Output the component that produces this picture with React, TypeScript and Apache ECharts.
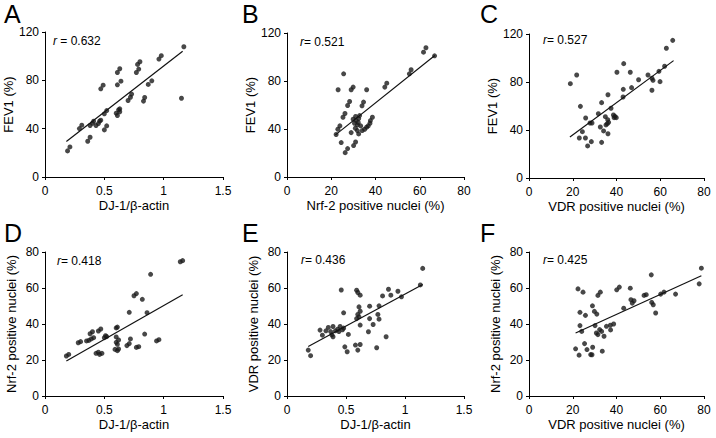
import React, { useEffect, useRef } from "react";
import * as echarts from "echarts";

// Panel A: DJ-1/β-actin vs FEV1 (%)
const dataA: number[][] = [
  [0.19, 21.6], [0.21, 24.9], [0.29, 40.1], [0.31, 42.9], [0.36, 29.6], [0.38, 32.9],
  [0.38, 42.6], [0.40, 44.5], [0.41, 46.2], [0.43, 42.6], [0.45, 44.2], [0.46, 46.2],
  [0.47, 47.0], [0.50, 39.0], [0.52, 42.3], [0.50, 52.3], [0.52, 55.0], [0.47, 73.0],
  [0.49, 76.0], [0.60, 52.8], [0.61, 50.9], [0.62, 55.6], [0.63, 54.0], [0.63, 56.4],
  [0.61, 86.5], [0.63, 89.6], [0.61, 76.3], [0.64, 79.3], [0.70, 63.3], [0.72, 66.0],
  [0.73, 68.6], [0.77, 86.5], [0.78, 93.2], [0.79, 89.3], [0.80, 95.4], [0.83, 62.8],
  [0.84, 65.8], [0.87, 76.6], [0.90, 79.6], [0.96, 97.6], [0.98, 100.4], [1.15, 65.2],
  [1.17, 107.8],
];
const lineA: number[][] = [[0.18, 29.3], [1.16, 104.0]];

// Panel B: Nrf-2 positive nuclei (%) vs FEV1 (%)
const dataB: number[][] = [
  [22.2, 35.4], [23.0, 39.8], [23.9, 42.6], [23.1, 72.7], [24.5, 28.7], [25.6, 86.0],
  [25.3, 49.8], [26.2, 52.9], [26.3, 20.3], [27.4, 23.7], [27.4, 59.6], [28.3, 62.9],
  [29.0, 72.7], [29.9, 74.9], [30.1, 26.2], [31.0, 29.2], [33.9, 59.3], [34.6, 62.4],
  [36.0, 72.7], [44.2, 74.9], [45.1, 78.2], [55.3, 86.0], [56.1, 89.4], [61.7, 104.0],
  [62.8, 107.7], [66.7, 101.0],
  [29.9, 48.2], [31.0, 50.4], [30.5, 44.8], [31.3, 47.0], [31.8, 43.4], [32.2, 45.4],
  [30.9, 40.6], [32.4, 48.7], [32.8, 51.2], [33.3, 42.6], [31.8, 38.7], [34.0, 38.7],
  [35.1, 39.8], [36.0, 41.5], [36.7, 42.6], [37.5, 44.8], [37.7, 47.0], [38.6, 49.8],
  [29.0, 37.0], [32.4, 35.9],
];
const lineB: number[][] = [[21.9, 35.1], [66.8, 101.3]];

// Panel C: VDR positive nuclei (%) vs FEV1 (%)
const dataC: number[][] = [
  [18.9, 78.6], [21.8, 85.8], [23.5, 59.7], [25.9, 50.0], [23.0, 33.3], [25.8, 33.3],
  [24.4, 38.6], [26.8, 26.7], [28.5, 30.3], [27.9, 45.8], [28.8, 45.8], [33.2, 62.8],
  [36.1, 69.4], [33.2, 29.7], [31.7, 53.6], [32.6, 42.5], [34.1, 39.2], [34.9, 51.1],
  [36.0, 48.6], [35.2, 44.2], [35.8, 45.3], [36.4, 46.4], [36.1, 36.9], [37.5, 58.1],
  [38.6, 52.5], [39.3, 51.4], [39.9, 50.3], [38.9, 50.3], [40.2, 88.1], [43.3, 95.3],
  [43.1, 73.9], [43.0, 67.5], [46.3, 88.1], [46.9, 75.3], [50.1, 81.9], [54.4, 85.8],
  [56.2, 83.1], [56.7, 81.4], [56.2, 73.1], [59.4, 88.9], [59.9, 80.3], [62.0, 93.1],
  [62.8, 108.1], [65.7, 114.7],
];
const lineC: number[][] = [[18.7, 34.2], [66.1, 97.8]];

// Panel D: DJ-1/β-actin vs Nrf-2 positive nuclei (%)
const dataD: number[][] = [
  [0.18, 22.2], [0.20, 23.1], [0.28, 29.6], [0.30, 30.2], [0.35, 30.6], [0.37, 30.9],
  [0.38, 34.6], [0.40, 35.7], [0.39, 31.7], [0.41, 32.4], [0.43, 23.7], [0.45, 24.3],
  [0.45, 36.1], [0.47, 37.2], [0.46, 23.1], [0.48, 23.7], [0.50, 32.4], [0.51, 33.5],
  [0.52, 33.0], [0.60, 37.8], [0.61, 38.3], [0.60, 32.8], [0.62, 31.1], [0.60, 29.8],
  [0.61, 28.7], [0.59, 25.9], [0.61, 25.2], [0.62, 26.1], [0.71, 46.5], [0.69, 28.0],
  [0.71, 29.1], [0.72, 31.7], [0.77, 27.0], [0.79, 27.4], [0.75, 55.7], [0.77, 56.9],
  [0.82, 53.7], [0.84, 34.4], [0.86, 46.3], [0.89, 67.6], [0.94, 30.6], [0.96, 31.3],
  [1.14, 74.6], [1.16, 75.2],
];
const lineD: number[][] = [[0.18, 19.4], [1.16, 56.3]];

// Panel E: DJ-1/β-actin vs VDR positive nuclei (%)
const dataE: number[][] = [
  [0.18, 25.5], [0.20, 22.4], [0.28, 36.6], [0.30, 33.8], [0.33, 36.2], [0.35, 38.1],
  [0.37, 35.8], [0.38, 34.0], [0.39, 38.6], [0.41, 36.2], [0.43, 37.1], [0.44, 35.8],
  [0.45, 38.6], [0.47, 36.8], [0.48, 37.7], [0.39, 32.9], [0.46, 58.9], [0.48, 46.2],
  [0.49, 27.3], [0.51, 24.6], [0.52, 34.2], [0.59, 58.8], [0.60, 57.5], [0.62, 56.0],
  [0.61, 49.5], [0.62, 47.1], [0.60, 45.3], [0.61, 44.0], [0.59, 43.0], [0.62, 39.4],
  [0.58, 28.3], [0.62, 28.6], [0.60, 25.5], [0.70, 49.9], [0.70, 43.0], [0.73, 39.7],
  [0.69, 35.7], [0.76, 26.8], [0.78, 50.1], [0.77, 45.3], [0.78, 42.7], [0.81, 55.6],
  [0.84, 32.9], [0.86, 59.3], [0.88, 56.0], [0.94, 58.2], [0.97, 55.1], [1.13, 61.7],
  [1.15, 70.9],
];
const lineE: number[][] = [[0.18, 27.5], [1.15, 61.9]];

// Panel F: VDR positive nuclei (%) vs Nrf-2 positive nuclei (%)
const dataF: number[][] = [
  [22.4, 59.5], [24.7, 57.7], [31.5, 55.9], [32.6, 57.7], [29.0, 50.1], [29.9, 47.0],
  [31.0, 45.5], [23.3, 46.5], [25.8, 44.8], [23.3, 39.1], [24.1, 35.9], [30.2, 39.1],
  [30.8, 35.0], [31.5, 34.1], [32.3, 36.9], [33.2, 35.9], [34.3, 33.2], [35.4, 38.7],
  [37.2, 39.3], [38.7, 40.0], [37.3, 36.7], [21.3, 26.2], [25.4, 29.1], [26.5, 25.8],
  [29.1, 27.1], [28.2, 23.0], [28.8, 22.9], [22.9, 22.7], [33.5, 24.9], [40.1, 59.0],
  [41.3, 60.5], [43.3, 48.8], [46.3, 59.9], [46.6, 53.5], [47.2, 51.6], [48.0, 52.9],
  [52.6, 55.9], [53.6, 56.3], [55.9, 67.3], [56.1, 52.0], [56.8, 50.7], [57.9, 46.1],
  [60.2, 56.6], [61.7, 57.7], [67.0, 56.6], [77.8, 62.3], [78.8, 71.0],
];
const lineF: number[][] = [[21.3, 35.0], [78.8, 66.8]];

const panelLetters = ["A", "B", "C", "D", "E", "F"];
const rValues = ["0.632", "0.521", "0.527", "0.418", "0.436", "0.425"];
const xTitles = [
  "DJ-1/β-actin",
  "Nrf-2 positive nuclei (%)",
  "VDR positive nuclei (%)",
  "DJ-1/β-actin",
  "DJ-1/β-actin",
  "VDR positive nuclei (%)",
];
const yTitles = [
  "FEV1 (%)",
  "FEV1 (%)",
  "FEV1 (%)",
  "Nrf-2 positive nuclei (%)",
  "VDR positive nuclei (%)",
  "Nrf-2 positive nuclei (%)",
];
const xRanges = [
  [0, 1.5, 0.5], [0, 80, 20], [0, 80, 20],
  [0, 1.5, 0.5], [0, 1.5, 0.5], [0, 80, 20],
];
const yRanges = [
  [0, 120, 40], [0, 120, 40], [0, 120, 40],
  [0, 80, 20], [0, 80, 20], [0, 80, 20],
];
const scatterData = [dataA, dataB, dataC, dataD, dataE, dataF];
const trendLines = [lineA, lineB, lineC, lineD, lineE, lineF];

const FONT = "'Liberation Sans', Arial, sans-serif";

const grids = [
  { left: 45, top: 32, width: 178, height: 145 },
  { left: 287, top: 33, width: 177, height: 144 },
  { left: 529, top: 34, width: 175, height: 144 },
  { left: 45, top: 252, width: 178, height: 144 },
  { left: 287, top: 252, width: 177, height: 144 },
  { left: 529, top: 252, width: 175, height: 144 },
];
const letterPos = [
  [4, 14], [242, 14], [480, 14],
  [4, 233], [242, 233], [480, 233],
];
const rPos = [
  [53, 41], [300, 42], [543, 40],
  [57, 261], [301, 260], [543, 260],
];

export default function App() {
  const ref = useRef<HTMLDivElement>(null);
  useEffect(() => {
    if (!ref.current) return;
    const chart = echarts.init(ref.current, undefined, { renderer: "svg" });
    const axisCommon = {
      type: "value" as const,
      splitLine: { show: false },
      axisLine: { show: true, lineStyle: { color: "#000", width: 1 } },
      axisTick: { show: true, inside: false, length: 3, lineStyle: { color: "#000" } },
      nameLocation: "middle" as const,
      nameTextStyle: { color: "#000", fontSize: 13, fontFamily: FONT },
    };
    const option: any = {
      animation: false,
      backgroundColor: "#fff",
      grid: grids.map((g) => ({ ...g, containLabel: false })),
      xAxis: xRanges.map((r, i) => ({
        ...axisCommon,
        gridIndex: i,
        min: r[0],
        max: r[1],
        interval: r[2],
        name: xTitles[i],
        nameGap: 22,
        axisLabel: { color: "#000", fontSize: 12, fontFamily: FONT, margin: 8 },
      })),
      yAxis: yRanges.map((r, i) => ({
        ...axisCommon,
        gridIndex: i,
        min: r[0],
        max: r[1],
        interval: r[2],
        name: yTitles[i],
        nameGap: i < 3 ? 25 : 27,
        axisLabel: { color: "#000", fontSize: 12, fontFamily: FONT, margin: 6 },
      })),
      series: [
        ...scatterData.map((d, i) => ({
          type: "scatter",
          xAxisIndex: i,
          yAxisIndex: i,
          data: d,
          symbol: "circle",
          symbolSize: 5,
          itemStyle: { color: "#1a1a1a" },
          silent: true,
        })),
        ...trendLines.map((d, i) => ({
          type: "line",
          xAxisIndex: i,
          yAxisIndex: i,
          data: d,
          showSymbol: false,
          symbol: "none",
          lineStyle: { color: "#111", width: 1.2 },
          silent: true,
        })),
      ],
      graphic: [
        ...panelLetters.map((t, i) => ({
          type: "text",
          x: letterPos[i][0],
          y: letterPos[i][1],
          style: {
            text: t,
            fill: "#000",
            font: `25px ${FONT}`,
            textAlign: "left",
            textVerticalAlign: "middle",
          },
        })),
        ...rValues.map((v, i) => ({
          type: "text",
          x: rPos[i][0],
          y: rPos[i][1],
          style: {
            text: i === 0 ? `{i|r} = ${v}` : `{i|r}= ${v}`,
            fill: "#000",
            font: `12px ${FONT}`,
            textAlign: "left",
            textVerticalAlign: "middle",
            rich: {
              i: { fontStyle: "italic", fontSize: 12, fontFamily: FONT, fill: "#000" },
            },
          },
        })),
      ],
    };
    chart.setOption(option);
    return () => chart.dispose();
  }, []);
  return (
    <div
      ref={ref}
      style={{ position: "fixed", left: 0, top: 0, width: 716, height: 438, background: "#fff" }}
    />
  );
}
